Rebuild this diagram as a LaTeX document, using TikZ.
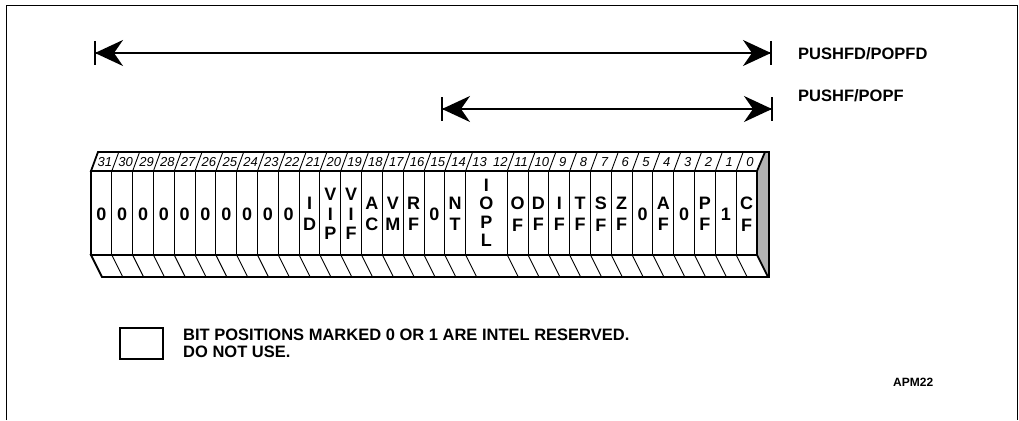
\documentclass[tikz,border=0pt]{standalone}
\usepackage{fontspec}
\setmainfont{Liberation Sans}
\usetikzlibrary{arrows.meta}
\begin{document}
\begin{tikzpicture}[x=1pt,y=-1pt,
  heavy/.style={line width=1.8pt},
  light/.style={line width=0.9pt},
  bitlabel/.style={font=\fontsize{18}{19.5}\selectfont\bfseries, align=center, inner sep=0pt},
  bitnum/.style={font=\fontsize{13}{13}\selectfont\itshape, inner sep=0pt},
  caption/.style={font=\fontsize{16.5}{17}\selectfont\bfseries, inner sep=0pt},
  rangearrow/.style={line width=1.8pt, -{Stealth[length=28pt,width=26pt,inset=9pt]}},
  endbar/.style={line width=2pt},
  sideface/.style={fill=gray!55, draw=black, line width=1.2pt}
]
\useasboundingbox (0,0) rectangle (1019,420);
% frame
\draw[line width=1pt] (6,420) -- (6,6) -- (1017,6) -- (1017,420);

% ---------- range arrows ----------
\coordinate (a1l) at (95,53);
\coordinate (a1r) at (771,53);
\coordinate (a2l) at (442,109);
\coordinate (a2r) at (772,109);
\draw[rangearrow] (a1r) -- (a1l);
\draw[rangearrow] (a1l) -- (a1r);
\draw[rangearrow] (a2r) -- (a2l);
\draw[rangearrow] (a2l) -- (a2r);
\draw[endbar] (a1l) ++(0,-12) -- ++(0,24);
\draw[endbar] (a1r) ++(0,-12) -- ++(0,24);
\draw[endbar] (a2l) ++(0,-12) -- ++(0,24);
\draw[endbar] (a2r) ++(0,-12) -- ++(0,24);
\node[caption, anchor=west] (l1) at (798,54) {PUSHFD/POPFD};
\node[caption, anchor=west] (l2) at (798,96) {PUSHF/POPF};

% ---------- register ----------
% right (shaded) face
\fill[gray!60] (757,171) -- (765,152) -- (769,152) -- (769,277) -- (768,277) -- (757,255) -- cycle;
\draw[line width=1.2pt] (765,152) -- (769,152) -- (769,277) -- (768,277);
% faces
\draw[heavy, fill=white] (91,171) -- (98,152) -- (765,152) -- (757,171) -- cycle;
\draw[heavy, fill=white] (91,171) rectangle (757,255);
\draw[heavy, fill=white] (91,255) -- (102,277) -- (768,277) -- (757,255) -- cycle;
% dividers
\foreach \i in {1,...,31} {
  \ifnum\i=19\else
    \pgfmathsetmacro{\xx}{91+\i*20.8125}
    \draw[light] (\xx,171) -- (\xx+7,152);
    \draw[light] (\xx,171) -- (\xx,255);
    \draw[light] (\xx,255) -- (\xx+11,277);
  \fi
}
% bit numbers
\foreach \b in {31,...,0} {
  \pgfmathsetmacro{\xx}{91+(31-\b+0.5)*20.8125+3.5}
  \node[bitnum] (n\b) at (\xx,162) {\b};
}
% cell contents
\foreach \b/\t in {31/0,30/0,29/0,28/0,27/0,26/0,25/0,24/0,23/0,22/0,
  21/{I\\[2pt]D},20/{V\\I\\P},19/{V\\I\\F},18/{A\\[2pt]C},17/{V\\[2pt]M},16/{R\\[2pt]F},
  15/0,14/{N\\[2pt]T},11/{O\\[2pt]F},10/{D\\[2pt]F},9/{I\\[2pt]F},8/{T\\[2pt]F},7/{S\\[2pt]F},
  6/{Z\\[2pt]F},5/0,4/{A\\[2pt]F},3/0,2/{P\\[2pt]F},1/1,0/{C\\[2pt]F}} {
  \pgfmathsetmacro{\xx}{91+(31-\b+0.5)*20.8125}
  \node[bitlabel] (c\b) at (\xx,214) {\t};
}
\node[bitlabel, font=\fontsize{18}{18.5}\selectfont\bfseries] (c13) at ({91+19*20.8125},213) {I\\O\\P\\L};

% ---------- legend ----------
\node[draw, line width=1.2pt, minimum width=43pt, minimum height=31pt, inner sep=0pt] (key) at (141.5,343.5) {};
\node[caption, anchor=north west, align=left] (keytext) at (183,329)
  {BIT POSITIONS MARKED 0 OR 1 ARE INTEL RESERVED.\\DO NOT USE.};
\node[font=\fontsize{12}{12}\selectfont\bfseries, anchor=west, inner sep=0pt] (fig) at (893,382) {APM22};
\end{tikzpicture}
\end{document}
